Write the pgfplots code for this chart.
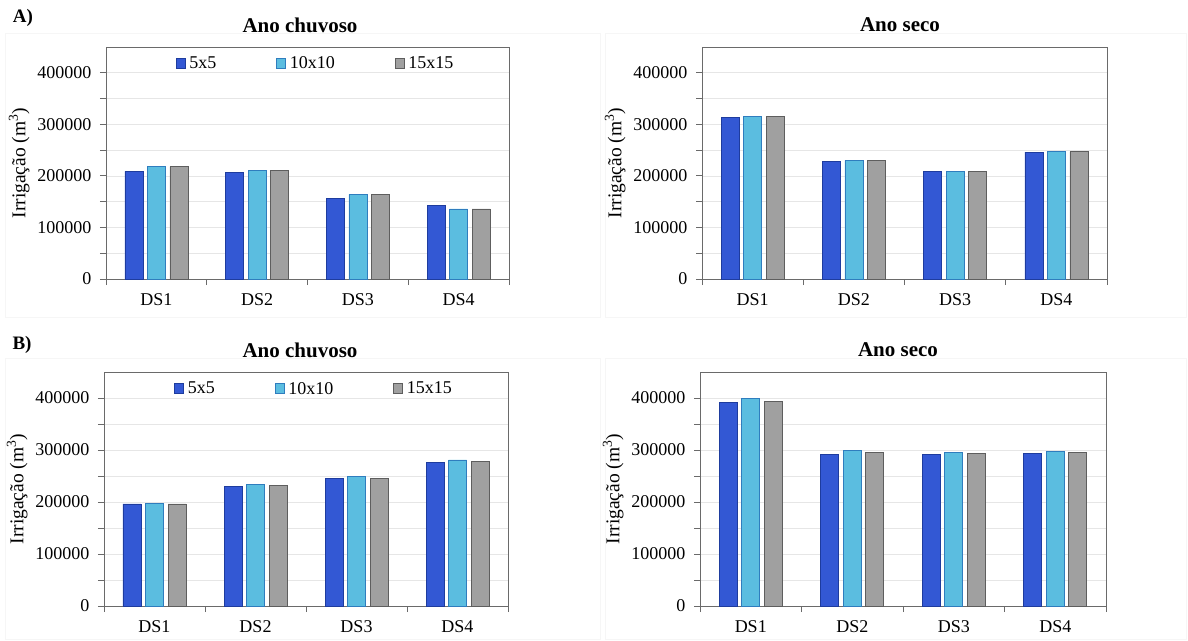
\documentclass[border=0pt]{standalone}
\usepackage{pgfplots}
\usepackage{pgfplotstable}
\pgfplotsset{compat=1.18}
\usepackage{fontspec}
\setmainfont{Liberation Serif}

\definecolor{cA}{HTML}{3358D4}
\definecolor{cAe}{HTML}{1E3C9E}
\definecolor{cB}{HTML}{5BBDE0}
\definecolor{cBe}{HTML}{2F7DBE}
\definecolor{cC}{HTML}{A0A0A0}
\definecolor{cCe}{HTML}{5E5E5E}
\definecolor{axisgray}{HTML}{6A6A6A}
\definecolor{gridgray}{HTML}{E6E6E6}
\definecolor{framegray}{HTML}{F6F6F6}

% Irrigation volumes (m^3), columns: 5x5, 10x10, 15x15
\pgfplotstableread{
x a b c
0 209000 219000 218000
1 206000 210000 210000
2 157000 164000 164000
3 142000 136000 136000
}\Achuv
\pgfplotstableread{
x a b c
0 313500 315000 315000
1 228000 230000 230000
2 208000 209000 209000
3 246000 247000 247000
}\Aseco
\pgfplotstableread{
x a b c
0 196500 198000 196500
1 230500 234000 232000
2 245000 249000 246000
3 275500 281000 278500
}\Bchuv
\pgfplotstableread{
x a b c
0 392000 399000 394000
1 291500 298500 296000
2 292000 296000 293500
3 293500 298000 295500
}\Bseco

\newcommand{\tfont}{\fontsize{18bp}{20bp}\selectfont}

\pgfplotsset{
  sqlegend/.style={legend image code/.code={\draw[##1] (0bp,-5bp) rectangle (9bp,5bp);}},
  irr/.style={
    scale only axis, anchor=south west,
    ybar=4.5bp, bar width=18bp,
    xmin=-0.5, xmax=3.5, ymin=0, ymax=450000,
    xtick={-0.5,0.5,1.5,2.5,3.5},
    x tick label as interval,
    xticklabels={DS1,DS2,DS3,DS4},
    ytick={0,100000,200000,300000,400000},
    minor y tick num=1,
    ymajorgrids, yminorgrids,
    major grid style={gridgray, line width=0.6pt},
    minor grid style={gridgray, line width=0.6pt},
    tick align=outside, tick pos=left,
    major tick length=6bp, minor tick length=6bp,
    every tick/.style={axisgray, line width=0.8pt},
    axis line style={axisgray, line width=0.9pt},
    scaled y ticks=false,
    tick label style={font=\tfont, black},
    yticklabel style={xshift=-5bp, /pgf/number format/.cd, fixed, 1000 sep={}, assume math mode=true},
    xticklabel style={yshift=-5bp},
    ylabel={Irrigação (m\textsuperscript{3})},
    ylabel style={font=\fontsize{19.5bp}{22bp}\selectfont, yshift=1bp},
    clip=false,
  },
  s1/.style={fill=cA, draw=cAe, line width=0.6pt, sqlegend},
  s2/.style={fill=cB, draw=cBe, line width=0.6pt, sqlegend},
  s3/.style={fill=cC, draw=cCe, line width=0.6pt, sqlegend},
  leg/.style={
    legend style={draw=none, fill=none, at={(0.52,0.975)}, anchor=north,
      legend columns=3, font=\tfont,
      /tikz/every odd column/.append style={column sep=2bp},
      /tikz/every even column/.append style={column sep=58bp}},
  },
}

\begin{document}
\begin{tikzpicture}
\path (0,0) rectangle (1188bp,-641bp);

% faint chart-area frames
\draw[framegray, line width=0.8pt] (5bp,-33bp) rectangle (600bp,-317bp);
\draw[framegray, line width=0.8pt] (605bp,-33bp) rectangle (1186bp,-317bp);
\draw[framegray, line width=0.8pt] (5bp,-358bp) rectangle (600bp,-639bp);
\draw[framegray, line width=0.8pt] (605bp,-358bp) rectangle (1186bp,-639bp);

% Panel letters and titles
\node[font=\fontsize{19bp}{22bp}\selectfont\bfseries] at (23bp,-18bp) {A)};
\node[font=\fontsize{19bp}{22bp}\selectfont\bfseries] at (22bp,-345bp) {B)};
\node[font=\fontsize{21bp}{24bp}\selectfont\bfseries] at (300bp,-25bp) {Ano chuvoso};
\node[font=\fontsize{21bp}{24bp}\selectfont\bfseries] at (900bp,-25bp) {Ano seco};
\node[font=\fontsize{21bp}{24bp}\selectfont\bfseries] at (300bp,-350bp) {Ano chuvoso};
\node[font=\fontsize{21bp}{24bp}\selectfont\bfseries] at (898bp,-350bp) {Ano seco};

% A) rainy year
\begin{axis}[irr, leg, at={(106bp,-279bp)}, width=403bp, height=232bp]
  \addplot[s1] table[x=x, y=a] {\Achuv};
  \addplot[s2] table[x=x, y=b] {\Achuv};
  \addplot[s3] table[x=x, y=c] {\Achuv};
  \legend{5x5,10x10,15x15}
\end{axis}

% A) dry year
\begin{axis}[irr, at={(702bp,-279bp)}, width=405bp, height=232bp]
  \addplot[s1] table[x=x, y=a] {\Aseco};
  \addplot[s2] table[x=x, y=b] {\Aseco};
  \addplot[s3] table[x=x, y=c] {\Aseco};
\end{axis}

% B) rainy year
\begin{axis}[irr, leg, at={(104bp,-606bp)}, width=404bp, height=234bp]
  \addplot[s1] table[x=x, y=a] {\Bchuv};
  \addplot[s2] table[x=x, y=b] {\Bchuv};
  \addplot[s3] table[x=x, y=c] {\Bchuv};
  \legend{5x5,10x10,15x15}
\end{axis}

% B) dry year
\begin{axis}[irr, at={(700bp,-606bp)}, width=406bp, height=234bp]
  \addplot[s1] table[x=x, y=a] {\Bseco};
  \addplot[s2] table[x=x, y=b] {\Bseco};
  \addplot[s3] table[x=x, y=c] {\Bseco};
\end{axis}
\end{tikzpicture}
\end{document}
